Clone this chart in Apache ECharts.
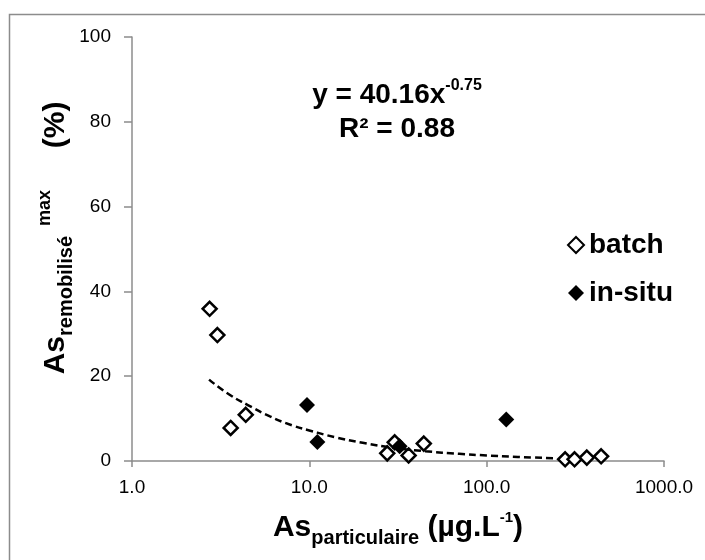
<!DOCTYPE html>
<html>
<head>
<meta charset="utf-8">
<script src="https://cdn.jsdelivr.net/npm/echarts@6/dist/echarts.min.js"></script>
<style>
html, body { margin: 0; padding: 0; background: #fff; }
#main { width: 705px; height: 560px; }
</style>
</head>
<body>
<div id="main"></div>
<script>
// valeurs
var batchX = [2.74, 3.03, 3.60, 4.38, 27.5, 30.3, 36.3, 44.2, 277, 313, 367, 442];
var batchY = [35.9, 29.7, 7.8, 10.9, 1.8, 4.4, 1.3, 4.1, 0.4, 0.4, 0.8, 1.1];
var insituX = [9.7, 11.1, 32.3, 129];
var insituY = [13.2, 4.5, 3.5, 9.8];
// courbe de tendance (puissance) lue point par point
var trendX = [2.72, 3.5, 4.5, 6, 8, 10, 14, 20, 30, 45, 70, 100, 150, 243];
var trendY = [19.2, 15.8, 13.2, 10.5, 8.4, 7.2, 5.6, 4.3, 3.1, 2.3, 1.7, 1.3, 0.95, 0.65];
var yTicks = [0, 20, 40, 60, 80, 100];
var xTicks = [1, 10, 100, 1000];
var seriesNames = ['batch', 'in-situ'];

function pairs(xs, ys) {
	var out = [];
	for (var i = 0; i < xs.length; i++) {
		out.push([xs[i], ys[i]]);
	}
	return out;
}

var FONT = 'Liberation Sans, Arial, sans-serif';
var GRAY = '#8c8c8c';

var myChart = echarts.init(document.getElementById('main'));
var option = {
	backgroundColor: '#fff',
	animation: false,
	textStyle: { fontFamily: FONT },
	grid: {
		left: 132,
		right: 41,
		top: 37,
		bottom: 99,
		outerBoundsMode: 'none'
	},
	legend: {
		orient: 'vertical',
		left: 562,
		top: 226,
		itemWidth: 16,
		itemHeight: 16,
		itemGap: 20,
		data: seriesNames,
		textStyle: {
			fontFamily: FONT,
			fontSize: 28,
			fontWeight: 'bold',
			color: '#000'
		}
	},
	xAxis: {
		type: 'log',
		logBase: 10,
		min: xTicks[0],
		max: xTicks[xTicks.length - 1],
		axisLine: { lineStyle: { color: GRAY, width: 1.5 } },
		axisTick: { show: true, length: 6, lineStyle: { color: GRAY, width: 1.5 } },
		splitLine: { show: false },
		axisLabel: {
			fontSize: 19,
			color: '#000',
			margin: 17,
			formatter: function (v) { return Number(v).toFixed(1); }
		}
	},
	yAxis: {
		type: 'value',
		min: yTicks[0],
		max: yTicks[yTicks.length - 1],
		interval: yTicks[1] - yTicks[0],
		axisLine: { show: true, lineStyle: { color: GRAY, width: 1.5 } },
		axisTick: { show: true, length: 8, lineStyle: { color: GRAY, width: 1.5 } },
		splitLine: { show: false },
		axisLabel: { fontSize: 19, color: '#000', margin: 21 }
	},
	graphic: [
		{
			// cadre du graphique
			type: 'rect',
			silent: true,
			shape: { x: 9.5, y: 14.5, width: 800, height: 700 },
			style: { fill: 'none', stroke: GRAY, lineWidth: 1.5 }
		},
		{
			type: 'text',
			x: 397,
			y: 112,
			style: {
				text: '{m|y = 40.16x}{p|-0.75}\n{m|R² = 0.88}',
				align: 'center',
				verticalAlign: 'middle',
				fill: '#000',
				rich: {
					m: { fontFamily: FONT, fontSize: 28, fontWeight: 'bold', lineHeight: 34 },
					p: { fontFamily: FONT, fontSize: 16, fontWeight: 'bold', padding: [0, 0, 18, 0] }
				}
			}
		},
		{
			type: 'text',
			x: 398,
			y: 528,
			style: {
				text: '{m|As}{s|particulaire}{m| (µg.L}{p|-1}{m|)}',
				align: 'center',
				verticalAlign: 'middle',
				fill: '#000',
				rich: {
					m: { fontFamily: FONT, fontSize: 30, fontWeight: 'bold' },
					s: { fontFamily: FONT, fontSize: 20, fontWeight: 'bold', padding: [20, 0, 0, 0] },
					p: { fontFamily: FONT, fontSize: 15, fontWeight: 'bold', padding: [0, 0, 20, 0] }
				}
			}
		},
		{
			type: 'text',
			x: 56,
			y: 238,
			rotation: Math.PI / 2,
			style: {
				text: '{m|As}{s|remobilisé}{p|  max}{m|     (%)}',
				align: 'center',
				verticalAlign: 'middle',
				fill: '#000',
				rich: {
					m: { fontFamily: FONT, fontSize: 30, fontWeight: 'bold' },
					s: { fontFamily: FONT, fontSize: 20, fontWeight: 'bold', padding: [20, 0, 0, 0] },
					p: { fontFamily: FONT, fontSize: 18, fontWeight: 'bold', padding: [0, 0, 22, 0] }
				}
			}
		}
	],
	series: [
		{
			name: 'batch',
			type: 'scatter',
			symbol: 'diamond',
			symbolSize: 14,
			z: 3,
			itemStyle: { color: '#fff', borderColor: '#000', borderWidth: 2.5, opacity: 1 },
			data: pairs(batchX, batchY)
		},
		{
			name: 'in-situ',
			type: 'scatter',
			symbol: 'diamond',
			symbolSize: 16,
			z: 3,
			itemStyle: { color: '#000', opacity: 1 },
			data: pairs(insituX, insituY)
		},
		{
			name: 'tendance',
			type: 'line',
			smooth: true,
			symbol: 'none',
			z: 4,
			silent: true,
			lineStyle: { color: '#000', width: 2.5, type: [7, 4] },
			data: pairs(trendX, trendY)
		}
	]
};
myChart.setOption(option);
</script>
</body>
</html>
